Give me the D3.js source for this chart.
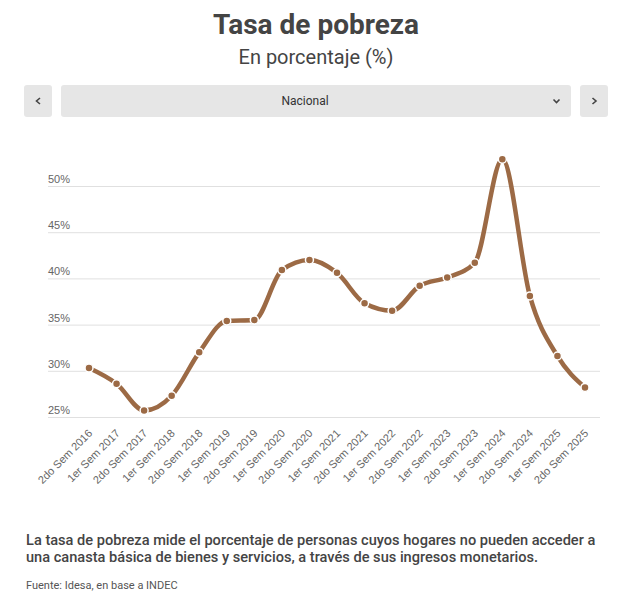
<!DOCTYPE html>
<meta charset="utf-8">
<style>
  body { margin: 0; background: #fff; }
  text { font-family: Roboto, "Liberation Sans", Arial, sans-serif; }
  .axis-label { font-family: "Liberation Sans", Arial, sans-serif; font-size: 11px; fill: #666; }
  .title { font-size: 28px; font-weight: bold; fill: #444; text-anchor: middle; }
  .subtitle { font-size: 20px; fill: #444; text-anchor: middle; }
  .note { font-size: 14.6px; font-weight: 500; fill: #444; }
  .source { font-size: 11px; fill: #555; }
</style>
<script src="https://d3js.org/d3.v7.min.js"></script>
<div id="chart"></div>
<script>
// periods (semesters) and poverty rate, %
var periods = ["2do Sem 2016", "1er Sem 2017", "2do Sem 2017", "1er Sem 2018", "2do Sem 2018",
  "1er Sem 2019", "2do Sem 2019", "1er Sem 2020", "2do Sem 2020", "1er Sem 2021", "2do Sem 2021",
  "1er Sem 2022", "2do Sem 2022", "1er Sem 2023", "2do Sem 2023", "1er Sem 2024", "2do Sem 2024",
  "1er Sem 2025", "2do Sem 2025"];
var pobreza = [30.3, 28.6, 25.7, 27.3, 32.0, 35.4, 35.5, 40.9, 42.0, 40.6, 37.3, 36.5, 39.2, 40.1,
  41.7, 52.9, 38.1, 31.6, 28.2];
var yTicks = [25, 30, 35, 40, 45, 50];

var W = 632, H = 601;
var svg = d3.select("#chart").append("svg")
  .attr("width", W)
  .attr("height", H);

// title block
svg.append("text").attr("class", "title").attr("x", 316).attr("y", 34).text("Tasa de pobreza");
svg.append("text").attr("class", "subtitle").attr("x", 316).attr("y", 64).text("En porcentaje (%)");

// selector: prev button, dropdown, next button
var ctl = svg.append("g").attr("transform", "translate(0,85)");
ctl.append("rect").attr("x", 24).attr("width", 28).attr("height", 32).attr("rx", 3).attr("fill", "#e6e6e6");
ctl.append("rect").attr("x", 61).attr("width", 510).attr("height", 32).attr("rx", 3).attr("fill", "#e6e6e6");
ctl.append("rect").attr("x", 580).attr("width", 28).attr("height", 32).attr("rx", 3).attr("fill", "#e6e6e6");
ctl.append("text").attr("x", 305).attr("y", 20).attr("text-anchor", "middle")
  .style("font-size", "12px").style("fill", "#333").text("Nacional");
var chev = function(d) {
  ctl.append("path").attr("d", d).attr("fill", "none")
    .attr("stroke", "#444").attr("stroke-width", 1.6);
};
chev("M40,13 L36.5,16 L40,19");
chev("M592.5,13 L596,16 L592.5,19");
chev("M553.5,14.5 L556.5,17.5 L559.5,14.5");

// scales
var x = d3.scalePoint().domain(periods).range([89, 585]);
var y = d3.scaleLinear().domain([25, 50]).range([417, 186]);

// gridlines + labels sitting above them
var grid = svg.append("g");
grid.selectAll("line").data(yTicks).enter().append("line")
  .attr("x1", 48).attr("x2", 600)
  .attr("y1", function(d) { return y(d) + 0.5; })
  .attr("y2", function(d) { return y(d) + 0.5; })
  .attr("stroke", "#e0e0e0");
grid.selectAll("text").data(yTicks).enter().append("text")
  .attr("class", "axis-label")
  .attr("x", 48)
  .attr("y", function(d) { return y(d) - 3; })
  .text(function(d) { return d + "%"; });

// x labels, rotated
svg.append("g").selectAll("text").data(periods).enter().append("text")
  .attr("class", "axis-label")
  .attr("text-anchor", "end")
  .attr("transform", function(d) { return "translate(" + (x(d) + 4) + ",434)rotate(-45)"; })
  .text(function(d) { return d; });

// line
var line = d3.line()
  .x(function(d, i) { return x(periods[i]); })
  .y(function(d) { return y(d); })
  .curve(d3.curveMonotoneX);

svg.append("path")
  .datum(pobreza)
  .attr("d", line)
  .attr("fill", "none")
  .attr("stroke", "#9c6a45")
  .attr("stroke-width", 4.5)
  .attr("stroke-linecap", "round");

svg.append("g").selectAll("circle").data(pobreza).enter().append("circle")
  .attr("cx", function(d, i) { return x(periods[i]); })
  .attr("cy", function(d) { return y(d); })
  .attr("r", 4)
  .attr("fill", "#9c6a45")
  .attr("stroke", "#fff")
  .attr("stroke-width", 1.5);

// footnote
svg.append("text").attr("class", "note").attr("x", 26).attr("y", 545)
  .text("La tasa de pobreza mide el porcentaje de personas cuyos hogares no pueden acceder a");
svg.append("text").attr("class", "note").attr("x", 26).attr("y", 562)
  .text("una canasta básica de bienes y servicios, a través de sus ingresos monetarios.");
svg.append("text").attr("class", "source").attr("x", 26).attr("y", 589)
  .text("Fuente: Idesa, en base a INDEC");
</script>
